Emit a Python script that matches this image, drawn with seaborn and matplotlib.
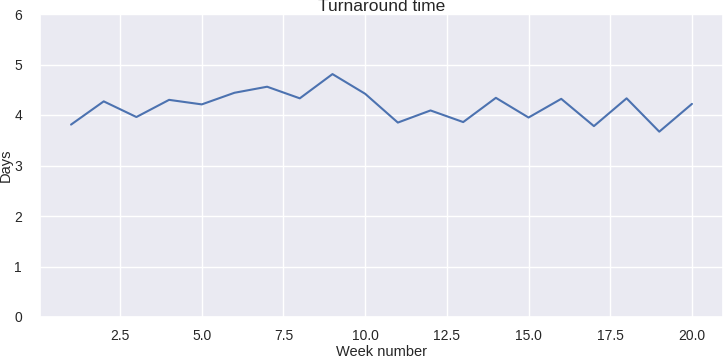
import matplotlib
matplotlib.use("Agg")
import matplotlib.pyplot as plt
import seaborn as sns
import pandas as pd

weeks = list(range(1, 21))
days = [3.81, 4.27, 3.96, 4.30, 4.21, 4.44, 4.56, 4.33, 4.81, 4.42,
        3.85, 4.09, 3.86, 4.34, 3.95, 4.32, 3.78, 4.33, 3.67, 4.22]

sns.set_theme(style="darkgrid")
plt.rcParams['font.family'] = ['Liberation Sans', 'DejaVu Sans']

df = pd.DataFrame({"Week number": weeks, "Days": days})

fig = plt.figure(figsize=(7.23, 3.59), dpi=100)
ax = fig.add_axes([40/723, 42/359, 683/723, 303/359])
sns.lineplot(data=df, x="Week number", y="Days", ax=ax, color="#4c72b0")
ax.set_ylim(0, 6)
ax.tick_params(axis="x", labelsize=10, pad=3, colors="#262626")
ax.tick_params(axis="y", labelsize=10, pad=7, colors="#262626")
ax.set_xlabel("Week number", fontsize=10.5)
ax.set_ylabel("Days", fontsize=10.5)
ax.xaxis.set_label_coords(0.5, -0.092)
ax.yaxis.set_label_coords(-0.040, 0.5)
ax.set_title("Turnaround time", fontsize=12.5, pad=2)
fig.savefig("out.png", dpi=100)
